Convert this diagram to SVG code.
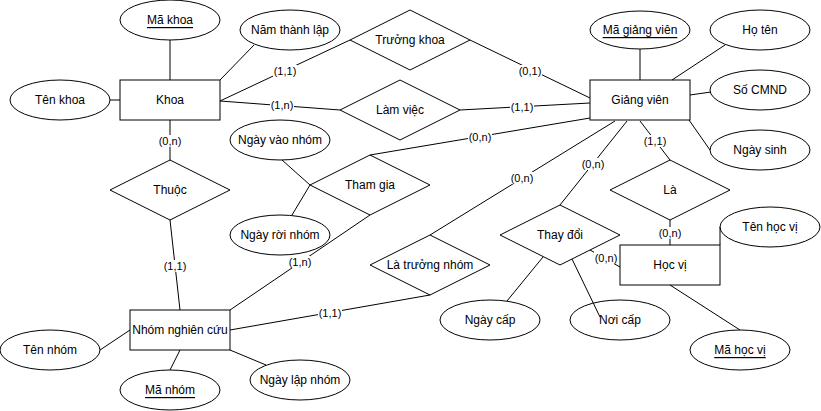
<svg xmlns="http://www.w3.org/2000/svg" width="821" height="411" viewBox="0 0 821 411">
<style>
.s{fill:#fff;stroke:#000;stroke-width:1}
.t{font-family:"Liberation Sans",Arial,sans-serif;font-size:12px;text-anchor:middle;dominant-baseline:central;fill:#000}
.u{text-decoration:underline}
.e{stroke:#000;stroke-width:1;fill:none}
.lb{fill:#fff}
.l{font-family:"Liberation Sans",Arial,sans-serif;font-size:11px;text-anchor:middle;dominant-baseline:central;fill:#000}
</style>
<rect width="821" height="411" fill="#fff"/>
<g id="khoa"><rect class="s" x="120" y="80" width="100" height="40"/><text class="t" x="170" y="100">Khoa</text></g>
<g id="ma-khoa"><ellipse class="s" cx="170" cy="20" rx="50" ry="20"/><text class="t u" x="170" y="20">Mã khoa</text></g>
<g id="ten-khoa"><ellipse class="s" cx="60" cy="100" rx="50" ry="20"/><text class="t" x="60" y="100">Tên khoa</text></g>
<g id="nam-thanh-lap"><ellipse class="s" cx="290" cy="30" rx="50" ry="20"/><text class="t" x="290" y="30">Năm thành lập</text></g>
<g id="truong-khoa"><polygon class="s" points="350,40 410,10 470,40 410,70"/><text class="t" x="410" y="40">Trưởng khoa</text></g>
<g id="lam-viec"><polygon class="s" points="340,110 400,80 460,110 400,140"/><text class="t" x="400" y="110">Làm việc</text></g>
<g id="giang-vien"><rect class="s" x="590" y="80" width="100" height="40"/><text class="t" x="640" y="100">Giảng viên</text></g>
<g id="ma-giang-vien"><ellipse class="s" cx="640" cy="30" rx="50" ry="19"/><text class="t u" x="640" y="30">Mã giảng viên</text></g>
<g id="ho-ten"><ellipse class="s" cx="760" cy="30" rx="50" ry="20"/><text class="t" x="760" y="30">Họ tên</text></g>
<g id="so-cmnd"><ellipse class="s" cx="760" cy="90" rx="50" ry="20"/><text class="t" x="760" y="90">Số CMND</text></g>
<g id="ngay-sinh"><ellipse class="s" cx="760" cy="150" rx="50" ry="20"/><text class="t" x="760" y="150">Ngày sinh</text></g>
<g id="la"><polygon class="s" points="610,190 670,160 730,190 670,220"/><text class="t" x="670" y="190">Là</text></g>
<g id="hoc-vi"><rect class="s" x="620" y="245" width="100" height="40"/><text class="t" x="670" y="265">Học vị</text></g>
<g id="ten-hoc-vi"><ellipse class="s" cx="770" cy="227" rx="50" ry="20"/><text class="t" x="770" y="227">Tên học vị</text></g>
<g id="ma-hoc-vi"><ellipse class="s" cx="740" cy="350" rx="50" ry="20"/><text class="t u" x="740" y="350">Mã học vị</text></g>
<g id="thay-doi"><polygon class="s" points="500,235 560,205 620,235 560,265"/><text class="t" x="560" y="235">Thay đổi</text></g>
<g id="ngay-cap"><ellipse class="s" cx="490" cy="320" rx="50" ry="20"/><text class="t" x="490" y="320">Ngày cấp</text></g>
<g id="noi-cap"><ellipse class="s" cx="620" cy="320" rx="50" ry="20"/><text class="t" x="620" y="320">Nơi cấp</text></g>
<g id="la-truong-nhom"><polygon class="s" points="370,265 430,235 490,265 430,295"/><text class="t" x="430" y="265">Là trưởng nhóm</text></g>
<g id="tham-gia"><polygon class="s" points="310,185 370,155 430,185 370,215"/><text class="t" x="370" y="185">Tham gia</text></g>
<g id="ngay-vao-nhom"><ellipse class="s" cx="280" cy="140" rx="50" ry="20"/><text class="t" x="280" y="140">Ngày vào nhóm</text></g>
<g id="ngay-roi-nhom"><ellipse class="s" cx="280" cy="235" rx="50" ry="20"/><text class="t" x="280" y="235">Ngày rời nhóm</text></g>
<g id="thuoc"><polygon class="s" points="110,190 170,160 230,190 170,220"/><text class="t" x="170" y="190">Thuộc</text></g>
<g id="nhom-nghien-cuu"><rect class="s" x="130" y="310" width="100" height="40"/><text class="t" x="180" y="330">Nhóm nghiên cứu</text></g>
<g id="ten-nhom"><ellipse class="s" cx="50" cy="350" rx="50" ry="20"/><text class="t" x="50" y="350">Tên nhóm</text></g>
<g id="ma-nhom"><ellipse class="s" cx="170" cy="390" rx="50" ry="20"/><text class="t u" x="170" y="390">Mã nhóm</text></g>
<g id="ngay-lap-nhom"><ellipse class="s" cx="300" cy="380" rx="50" ry="20"/><text class="t" x="300" y="380">Ngày lập nhóm</text></g>
<g id="connectors">
<path class="e" d="M170,40V80 M110,100H120 M220,80L254,45"/>
<path class="e" d="M220,101L350,40 M470,40L590,98"/>
<path class="e" d="M220,101L340,110 M460,110L590,103"/>
<path class="e" d="M640,49V80 M672,80L725,45 M690,95L711,92 M689,120L710,150"/>
<path class="e" d="M640,121L670,160 M670,220V245"/>
<path class="e" d="M720,245V227 M670,285L740,330"/>
<path class="e" d="M627,121L560,205 M590,250L620,267 M543,257L507,301 M572,259L600,317"/>
<path class="e" d="M615,121L430,235 M430,295L230,330"/>
<path class="e" d="M370,155L590,118 M230,310L370,215 M282,160L310,185 M292,215L310,185"/>
<path class="e" d="M170,120V160 M170,220L180,310"/>
<path class="e" d="M100,350L130,330 M180,350L170,370 M230,350L266,365"/>
<g id="labels">
<rect class="lb" x="273" y="65" width="24" height="12"/><text class="l" x="285" y="71">(1,1)</text>
<rect class="lb" x="518" y="65" width="24" height="12"/><text class="l" x="530" y="71">(0,1)</text>
<rect class="lb" x="270" y="99" width="24" height="12"/><text class="l" x="282" y="105">(1,n)</text>
<rect class="lb" x="510" y="101" width="24" height="12"/><text class="l" x="522" y="107">(1,1)</text>
<rect class="lb" x="468" y="131" width="24" height="12"/><text class="l" x="480" y="137">(0,n)</text>
<rect class="lb" x="158" y="135" width="24" height="12"/><text class="l" x="170" y="141">(0,n)</text>
<rect class="lb" x="163" y="260" width="24" height="12"/><text class="l" x="175" y="266">(1,1)</text>
<rect class="lb" x="288" y="256" width="24" height="12"/><text class="l" x="300" y="262">(1,n)</text>
<rect class="lb" x="510" y="172" width="24" height="12"/><text class="l" x="522" y="178">(0,n)</text>
<rect class="lb" x="318" y="307" width="24" height="12"/><text class="l" x="330" y="313">(1,1)</text>
<rect class="lb" x="581" y="158" width="24" height="12"/><text class="l" x="593" y="164">(0,n)</text>
<rect class="lb" x="643" y="135" width="24" height="12"/><text class="l" x="655" y="141">(1,1)</text>
<rect class="lb" x="658" y="227" width="24" height="12"/><text class="l" x="670" y="233">(0,n)</text>
<rect class="lb" x="594" y="252" width="24" height="12"/><text class="l" x="606" y="258">(0,n)</text>
</g>
</g>
</svg>
